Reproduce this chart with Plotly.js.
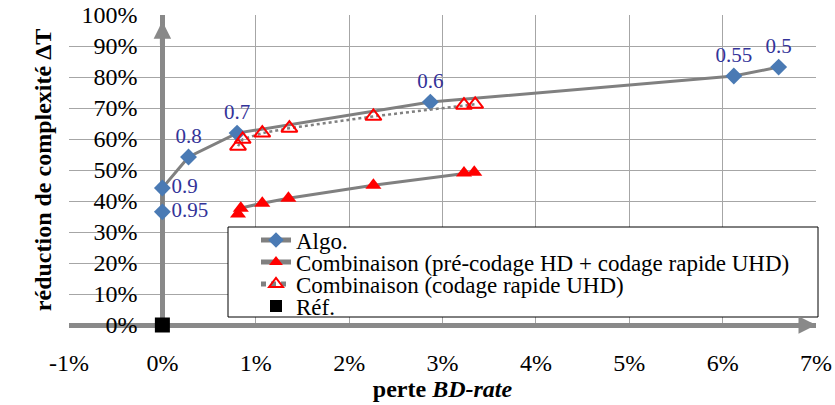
<!DOCTYPE html>
<html>
<head>
<meta charset="utf-8">
<script src="https://cdn.plot.ly/plotly-3.0.1.min.js"></script>
<style>html,body{margin:0;padding:0;background:#fff;}#chart{width:835px;height:405px;}</style>
</head>
<body>
<div id="chart"></div>
<script>
// ---- data ----
const algoX = [0, 0, 0.28, 0.80, 2.87, 6.12, 6.60];
const algoY = [36.5, 44.2, 54.2, 61.9, 71.9, 80.3, 83.2];
const algoLabels = ['0.95', '0.9', '0.8', '0.7', '0.6', '0.55', '0.5'];

const combHdX = [0.81, 0.84, 1.07, 1.35, 2.26, 3.23, 3.34];
const combHdY = [35.8, 37.7, 39.3, 40.9, 45.1, 49.0, 49.3];

const combUhdX = [0.81, 0.86, 1.07, 1.36, 2.26, 3.23, 3.35];
const combUhdY = [57.7, 59.9, 61.9, 63.5, 67.3, 70.9, 71.2];

const refX = [0];
const refY = [0];

const seriesNames = ['Algo.', 'Combinaison (pré-codage HD + codage rapide UHD)', 'Combinaison (codage rapide UHD)', 'Réf.'];

const xTickVals = [-1, 0, 1, 2, 3, 4, 5, 6, 7];
const xTickText = ['-1%', '0%', '1%', '2%', '3%', '4%', '5%', '6%', '7%'];
const yTickVals = [0, 10, 20, 30, 40, 50, 60, 70, 80, 90, 100];
const yTickText = ['0%', '10%', '20%', '30%', '40%', '50%', '60%', '70%', '80%', '90%', '100%'];

const xRange = [-1, 7];
const yRange = [0, 100];

// ---- styles ----
const FONT = '"Liberation Serif", "Times New Roman", Times, serif';
const GREY = '#898989';
const LINE = '#808080';
const BLUE = '#4a7ab4';
const RED = '#ff0000';

const labelPos = algoLabels.map((_, i) => i < 2 ? 'middle right' : 'top center');

const traces = [
  {
    x: algoX, y: algoY, name: seriesNames[0], type: 'scatter', mode: 'lines+markers+text',
    text: algoLabels, textposition: labelPos,
    textfont: {family: FONT, size: 21, color: '#333399'},
    line: {color: LINE, width: 3},
    marker: {symbol: 'diamond', size: 13, color: BLUE},
    cliponaxis: false, legend: 'legend'
  },
  {
    x: combHdX, y: combHdY, name: seriesNames[1], type: 'scatter', mode: 'lines+markers',
    line: {color: LINE, width: 3},
    marker: {symbol: 'triangle-up', size: 14, color: RED},
    cliponaxis: false, legend: 'legend2'
  },
  {
    x: combUhdX, y: combUhdY, name: seriesNames[2], type: 'scatter', mode: 'lines+markers',
    line: {color: LINE, width: 2.5, dash: 'dot'},
    marker: {symbol: 'triangle-up-open', size: 14, color: RED, line: {width: 2, color: RED}},
    cliponaxis: false, legend: 'legend3'
  },
  {
    x: refX, y: refY, name: seriesNames[3], type: 'scatter', mode: 'markers',
    marker: {symbol: 'square', size: 15, color: '#000000'},
    cliponaxis: false, legend: 'legend4'
  }
];

const plotL = 69, plotR = 19, plotT = 15, plotB = 80, W = 835, H = 405;
const pw = W - plotL - plotR, ph = H - plotT - plotB;
function px2paperX(px) { return (px - plotL) / pw; }
function px2paperY(py) { return (H - plotB - py) / ph; }

function legendAt(rowPx) {
  return {
    x: px2paperX(256), xanchor: 'left',
    y: px2paperY(rowPx), yanchor: 'middle',
    bgcolor: 'rgba(0,0,0,0)', borderwidth: 0,
    font: {family: FONT, size: 23, color: '#000'},
    itemsizing: 'constant'
  };
}

const layout = {
  width: W, height: H,
  margin: {l: plotL, r: plotR, t: plotT, b: plotB, pad: 0},
  paper_bgcolor: '#ffffff', plot_bgcolor: '#ffffff',
  font: {family: FONT, color: '#000'},
  showlegend: true,
  xaxis: {
    range: xRange, tickvals: xTickVals, ticktext: xTickText,
    showgrid: true, gridcolor: '#a6a6a6', gridwidth: 1,
    zeroline: true, zerolinecolor: GREY, zerolinewidth: 5,
    showline: false,
    ticks: 'outside', ticklen: 16, tickcolor: 'rgba(0,0,0,0)',
    tickfont: {family: FONT, size: 24, color: '#000'},
    title: {text: '<b>perte <i>BD-rate</i></b>', font: {family: FONT, size: 24, color: '#000'}, standoff: 0}
  },
  yaxis: {
    range: yRange, tickvals: yTickVals, ticktext: yTickText,
    anchor: 'free', position: (0 - xRange[0]) / (xRange[1] - xRange[0]),
    showgrid: true, gridcolor: '#a6a6a6', gridwidth: 1,
    zeroline: true, zerolinecolor: GREY, zerolinewidth: 5,
    showline: false,
    ticks: 'outside', ticklen: 20, tickcolor: 'rgba(0,0,0,0)',
    tickfont: {family: FONT, size: 24, color: '#000'},
    title: {text: '<b>réduction de complexité ΔT</b>', font: {family: FONT, size: 24, color: '#000'}, standoff: 22}
  },
  legend: legendAt(240),
  legend2: legendAt(262),
  legend3: legendAt(284),
  legend4: legendAt(306),
  shapes: [
    {type: 'rect', xref: 'paper', yref: 'paper',
     x0: px2paperX(228), x1: px2paperX(818), y0: px2paperY(317), y1: px2paperY(227),
     fillcolor: '#ffffff', line: {color: '#000000', width: 1}, layer: 'above'}
  ],
  annotations: [
    {xref: 'x', yref: 'y', axref: 'x', ayref: 'y', x: 0, y: 98, ax: 0, ay: 90, text: '',
     showarrow: true, arrowhead: 2, arrowsize: 0.7, arrowwidth: 5, arrowcolor: GREY, standoff: 0},
    {xref: 'x', yref: 'y', axref: 'x', ayref: 'y', x: 7.0, y: 0, ax: 6.8, ay: 0, text: '',
     showarrow: true, arrowhead: 2, arrowsize: 0.7, arrowwidth: 5, arrowcolor: GREY, standoff: 0}
  ]
};

Plotly.newPlot('chart', traces, layout, {displayModeBar: false, staticPlot: true});
</script>
</body>
</html>
